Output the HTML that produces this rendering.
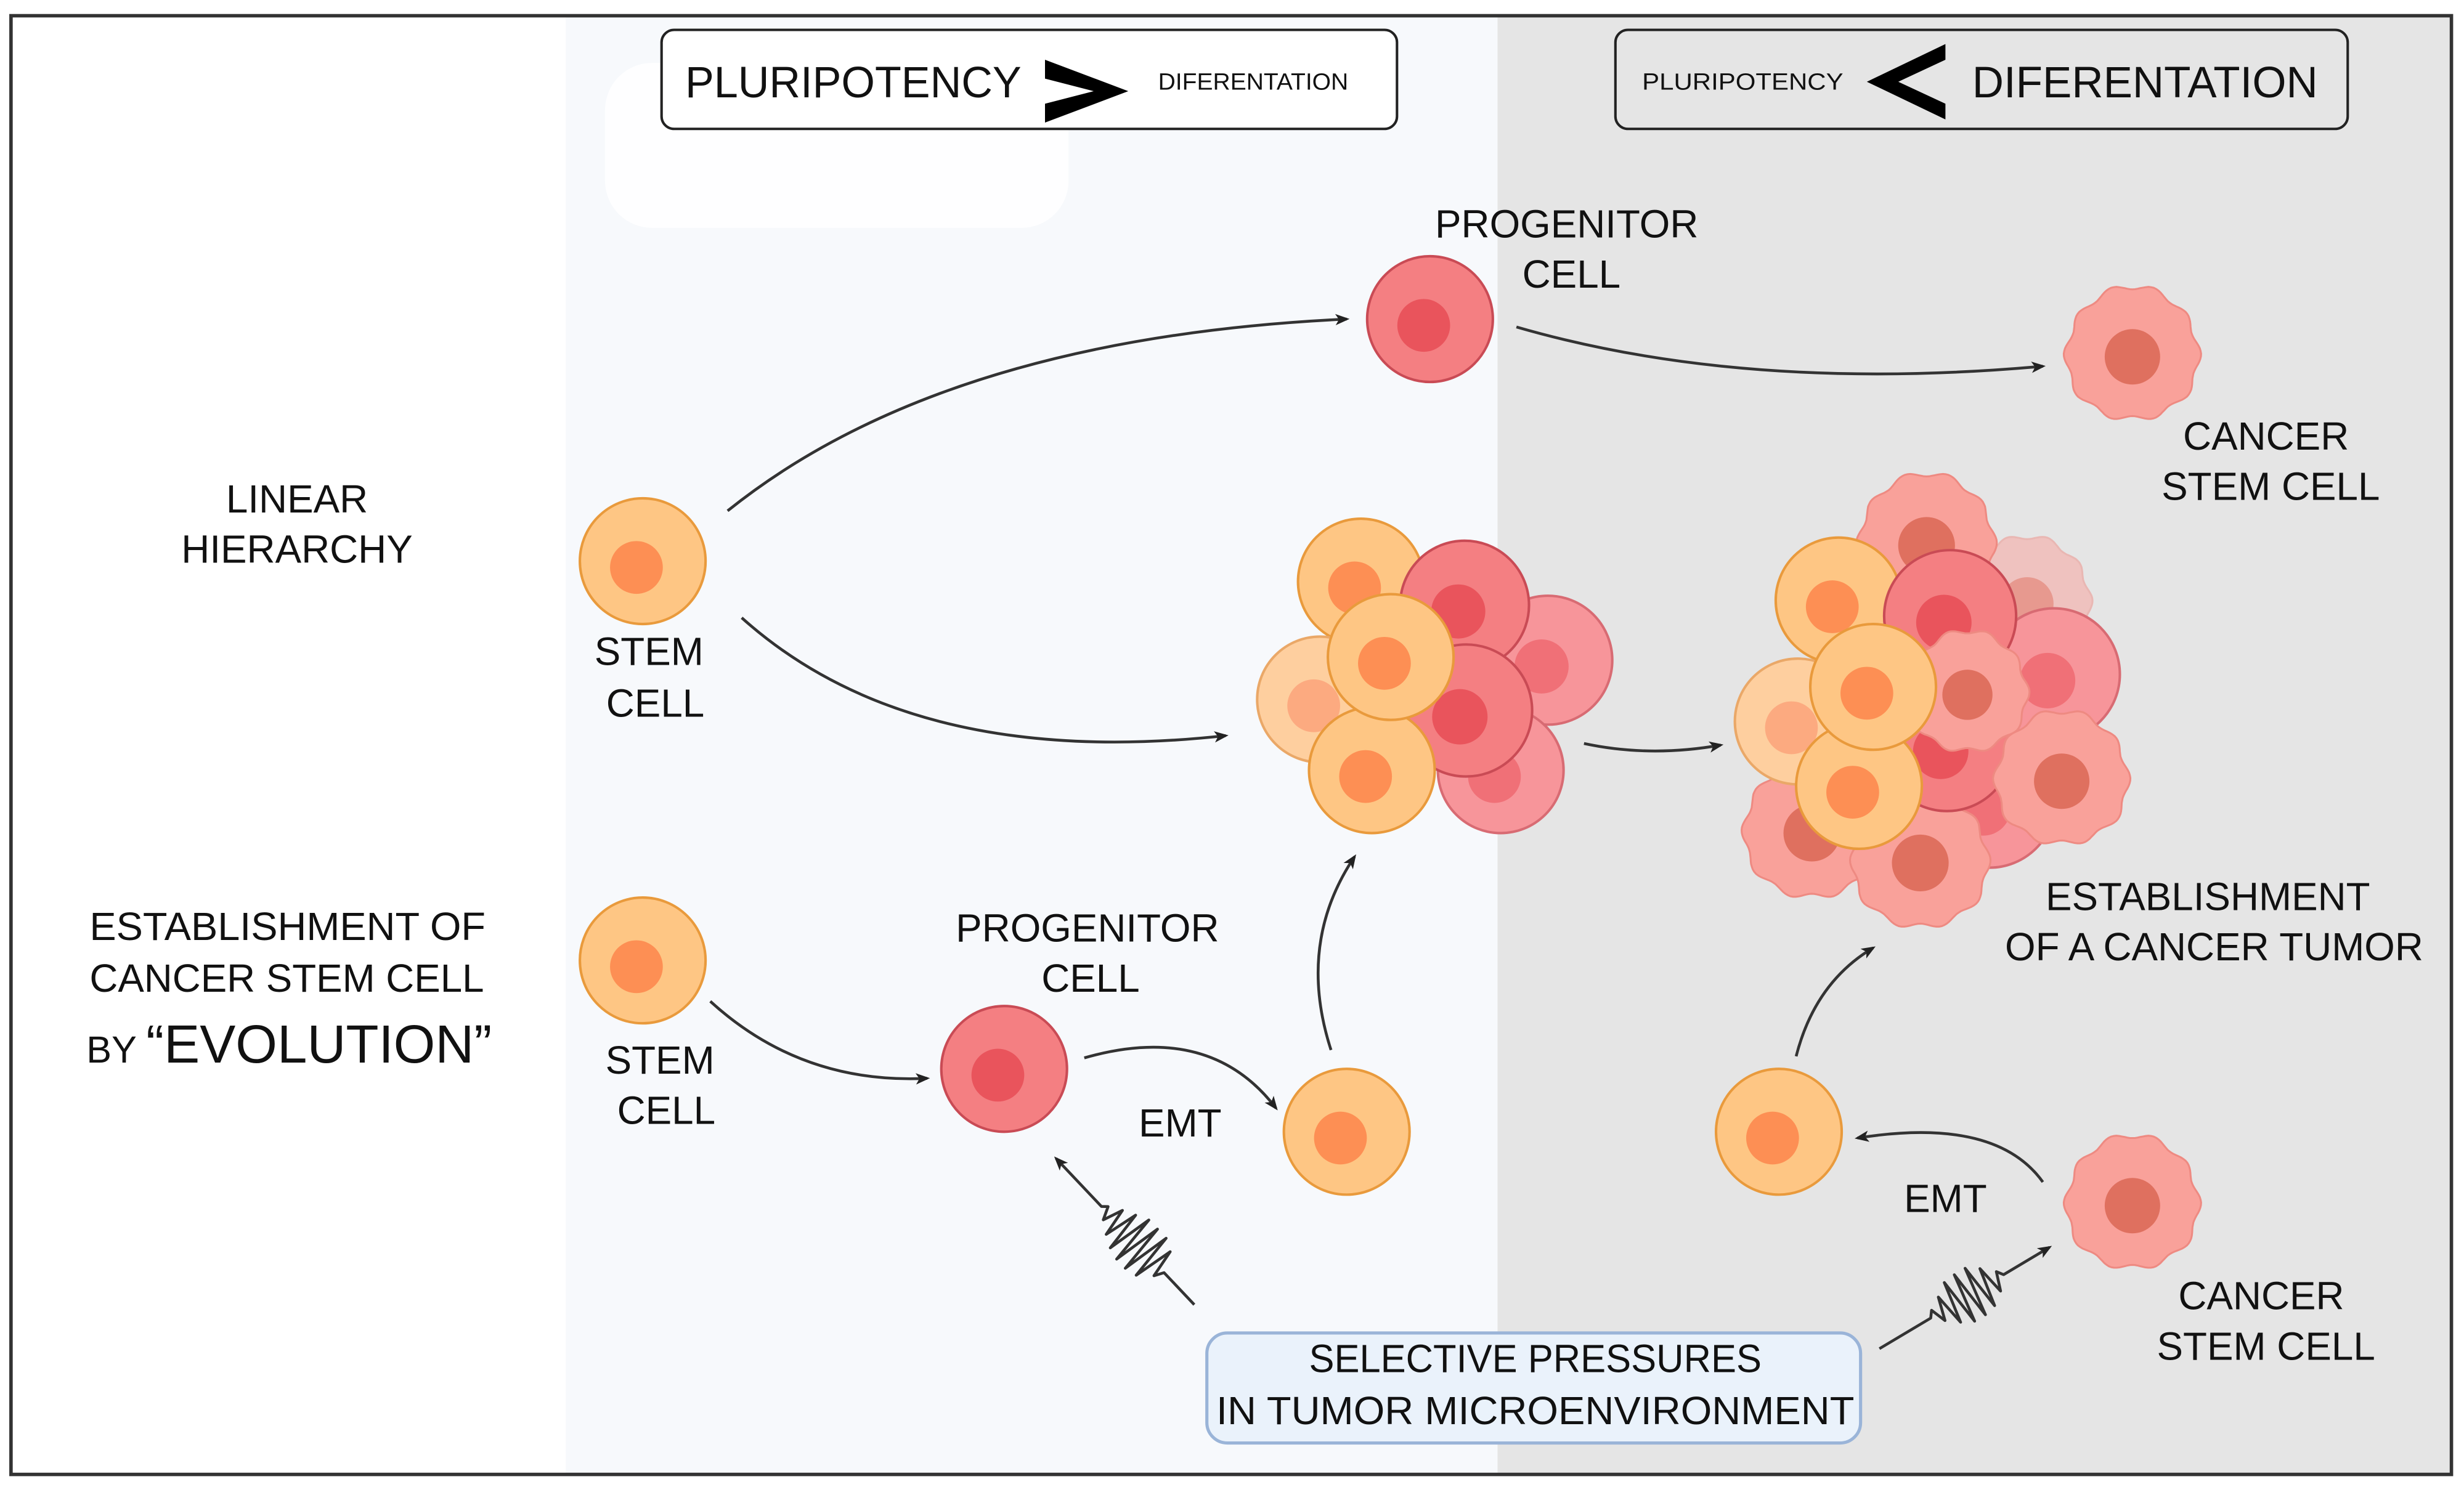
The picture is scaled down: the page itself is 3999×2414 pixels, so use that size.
<!DOCTYPE html>
<html><head><meta charset="utf-8"><style>
html,body{margin:0;padding:0;background:#fff}
svg{display:block}
text{font-family:"Liberation Sans",sans-serif;fill:#111}
</style></head><body>
<svg id="s" width="3999" height="2414" viewBox="0 0 1568 946" preserveAspectRatio="none" xmlns="http://www.w3.org/2000/svg">
<defs>
<marker id="ah" viewBox="0 0 10 10" refX="8" refY="5" markerWidth="9" markerHeight="9" markerUnits="userSpaceOnUse" orient="auto"><path d="M0,1 L10,5 L0,9 L2.5,5 z" fill="#222"/></marker>
</defs>
<rect x="0" y="0" width="1568" height="946" fill="#fff"/>
<rect x="360" y="10" width="593" height="928" fill="#f7f9fc"/>
<rect x="953" y="10" width="607" height="928" fill="#e5e5e5"/>
<rect x="385" y="40" width="295" height="105" rx="30" fill="#fff" opacity="0.8"/>
<rect x="7" y="10" width="1553" height="928" fill="none" stroke="#333" stroke-width="2.2"/>

<!-- headers -->
<rect x="421" y="19" width="468" height="63" rx="8" fill="#fff" stroke="#222" stroke-width="1.6"/>
<text x="436" y="62" font-size="28" textLength="214" lengthAdjust="spacingAndGlyphs">PLURIPOTENCY</text>
<path d="M665,38 L718,58 L665,78 L665,66 L696,58 L665,50 z" fill="#000"/>
<text x="737" y="57" font-size="15" textLength="121" lengthAdjust="spacingAndGlyphs">DIFERENTATION</text>
<rect x="1028" y="19" width="466" height="63" rx="8" fill="#e5e5e5" stroke="#222" stroke-width="1.6"/>
<text x="1045" y="57" font-size="15" textLength="128" lengthAdjust="spacingAndGlyphs">PLURIPOTENCY</text>
<path d="M1238,28 L1188,52 L1238,76 L1238,66 L1208,52 L1238,38 z" fill="#000"/>
<text x="1255" y="62" font-size="28" textLength="220" lengthAdjust="spacingAndGlyphs">DIFERENTATION</text>

<!-- labels -->
<g font-size="25" text-anchor="middle">
<text x="189" y="326">LINEAR</text>
<text x="189" y="358">HIERARCHY</text>
<text x="413" y="423">STEM</text><text x="417" y="456">CELL</text>
<text x="997" y="151">PROGENITOR</text><text x="1000" y="183">CELL</text>
<text x="1442" y="286">CANCER</text><text x="1445" y="318">STEM CELL</text>
<text x="420" y="683">STEM</text><text x="424" y="715">CELL</text>
<text x="692" y="599">PROGENITOR</text><text x="694" y="631">CELL</text>
<text x="751" y="723">EMT</text>
<text x="1238" y="771">EMT</text>
<text x="1405" y="579">ESTABLISHMENT</text>
<text x="1409" y="611">OF A CANCER TUMOR</text>
<text x="1439" y="833">CANCER</text><text x="1442" y="865">STEM CELL</text>
</g>
<g font-size="25">
<text x="57" y="598" textLength="252" lengthAdjust="spacingAndGlyphs">ESTABLISHMENT OF</text>
<text x="57" y="631" textLength="251" lengthAdjust="spacingAndGlyphs">CANCER STEM CELL</text>
<text x="55" y="676" font-size="24">BY</text>
<text x="93" y="676" font-size="34" textLength="220" lengthAdjust="spacingAndGlyphs">“EVOLUTION”</text>
</g>

<!-- selective box -->
<rect x="768" y="848" width="416" height="70" rx="13" fill="#eaf2fb" stroke="#9ab4d8" stroke-width="2"/>
<text x="977" y="873" font-size="25" text-anchor="middle" textLength="288" lengthAdjust="spacingAndGlyphs">SELECTIVE PRESSURES</text>
<text x="977" y="906" font-size="25" text-anchor="middle" textLength="406" lengthAdjust="spacingAndGlyphs">IN TUMOR MICROENVIRONMENT</text>

<!-- arrows -->
<g fill="none" stroke="#333" stroke-width="1.8" marker-end="url(#ah)">
<path d="M463,325 Q600,215 857,203"/>
<path d="M965,208 Q1110,250 1300,233"/>
<path d="M472,393 Q580,490 780,468"/>
<path d="M1008,473 Q1050,482 1095,474"/>
<path d="M452,637 Q510,690 590,686"/>
<path d="M690,673 Q770,650 812,705"/>
<path d="M847,668 Q825,600 862,545"/>
<path d="M1300,752 Q1270,710 1182,724"/>
<path d="M1143,672 Q1155,625 1192,603"/>
</g>
<g fill="none" stroke="#333" stroke-width="1.8" stroke-linejoin="round">
<path transform="translate(760,830) rotate(-133.4)" marker-end="url(#ah)" d="M0,0 L28,0 L31,-6 L35,12 L39,-14 L43,16 L47,-16 L51,16 L55,-16 L59,16 L63,-14 L67,12 L71,-10 L75,8 L79,-5 L83,3 L86,0 L128,0"/>
<path transform="translate(1196,858) rotate(-30.8)" marker-end="url(#ah)" d="M0,0 L38,0 L41,-4 L45,6 L49,-9 L53,12 L57,-15 L61,16 L65,-16 L69,16 L73,-16 L77,14 L81,-11 L85,8 L89,-4 L92,0 L126,0"/>
</g>
<g id="cells"></g>
</svg>
<script>
var g=document.getElementById('cells');var NS='http://www.w3.org/2000/svg';
var T={o:['#fec684','#e99a3c','#fd8f54'],r:['#f47f82','#c94b55','#e9545c'],lr:['#f7959a','#d86b73','#f07077'],lo:['#fecf9f','#eaa868','#fcaa80']};
function el(n,a){var e=document.createElementNS(NS,n);for(var k in a)e.setAttribute(k,a[k]);g.appendChild(e);return e;}
function cell(t,x,y,r,op){var c=T[t];var a={cx:x,cy:y,r:r,fill:c[0],stroke:c[1],'stroke-width':1.6};if(op)a.opacity=op;el('circle',a);
var b={cx:x-4,cy:y+4,r:r*0.42,fill:c[2]};if(op)b.opacity=op;el('circle',b);}
function cancer(x,y,r,op){var d='';for(var i=0;i<=160;i++){var th=i/160*Math.PI*2;var rr=r*(1+0.04*Math.cos(10*th)+0.015*Math.sin(3*th));d+=(i?'L':'M')+(x+rr*Math.cos(th)).toFixed(1)+','+(y+rr*Math.sin(th)).toFixed(1);}
var a={d:d+'z',fill:'#f9a19a',stroke:'#ee8a82','stroke-width':1.2};if(op)a.opacity=op;el('path',a);
var b={cx:x,cy:y+2,r:r*0.42,fill:'#df705f'};if(op)b.opacity=op;el('circle',b);}
cell('o',409,357,40);cell('r',910,203,40);cancer(1357,225,42);
cell('o',409,611,40);cell('r',639,680,40);cell('o',857,720,40);
cell('o',1132,720,40);cancer(1357,765,42);
cell('lr',985,420,41);cell('lr',955,490,40);cell('o',866,370,40);cell('r',932,385,41);
cell('lo',840,445,40);cell('r',933,452,42);cell('o',873,490,40);cell('o',885,418,40);
cancer(1290,382,40,0.5);cancer(1226,345,43);cell('lr',1307,429,42);cell('lr',1266,510,42);
cancer(1153,528,43);cancer(1222,547,43);cell('r',1239,474,42);cell('o',1170,382,40);
cell('r',1241,392,42);cell('lo',1144,459,40);cancer(1252,440,38);cancer(1312,495,42);
cell('o',1183,500,40);cell('o',1192,437,40);
</script>
</body></html>
